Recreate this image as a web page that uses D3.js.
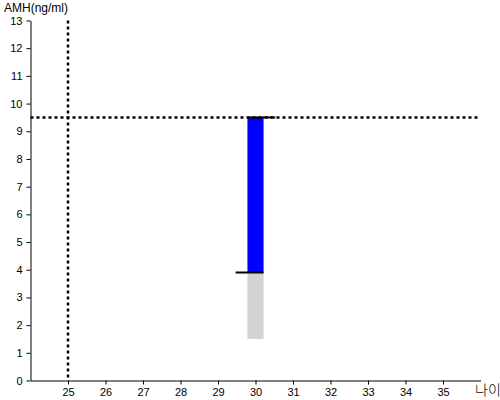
<!DOCTYPE html>
<html>
<head>
<meta charset="utf-8">
<script src="https://cdnjs.cloudflare.com/ajax/libs/d3/7.8.5/d3.min.js"></script>
<style>
  body { margin: 0; background: #fff; }
  svg { display: block; font-family: "Liberation Sans", Arial, sans-serif; }
  .axis text { font-size: 11px; fill: #000; }
  .axis path, .axis line { stroke: #000; }
</style>
</head>
<body>
<svg id="chart" width="500" height="400"></svg>
<script>
// data
var ages = [30];
var amhTop = [9.5];
var amhMid = [3.9];
var amhLow = [1.5];
var refAge = [25];
var refAmh = [9.5];
var xTicks = [25, 26, 27, 28, 29, 30, 31, 32, 33, 34, 35];
var yTicks = [0, 1, 2, 3, 4, 5, 6, 7, 8, 9, 10, 11, 12, 13];

var svg = d3.select("#chart");

var x = d3.scaleLinear().domain([24, 36]).range([30.5, 480.5]);
var y = d3.scaleLinear().domain([0, 13]).range([380.5, 20.5]);

var barHalf = 0.215;

// gray lower part
svg.selectAll(".low")
    .data(ages)
  .enter().append("rect")
    .attr("fill", "#d3d3d3")
    .attr("x", function(d) { return x(d - barHalf); })
    .attr("width", function(d) { return x(d + barHalf) - x(d - barHalf); })
    .attr("y", function(d, i) { return y(amhMid[i]); })
    .attr("height", function(d, i) { return y(amhLow[i]) - y(amhMid[i]); });

// blue upper part
svg.selectAll(".high")
    .data(ages)
  .enter().append("rect")
    .attr("fill", "#0000ff")
    .attr("x", function(d) { return x(d - barHalf); })
    .attr("width", function(d) { return x(d + barHalf) - x(d - barHalf); })
    .attr("y", function(d, i) { return y(amhTop[i]); })
    .attr("height", function(d, i) { return y(amhMid[i]) - y(amhTop[i]); });

// reference lines
svg.selectAll(".vref")
    .data(refAge)
  .enter().append("line")
    .attr("x1", function(d) { return x(d); })
    .attr("x2", function(d) { return x(d); })
    .attr("y1", y(13))
    .attr("y2", y(0))
    .attr("stroke", "#000")
    .attr("stroke-width", 2.5)
    .attr("stroke-dasharray", "3,3");

svg.selectAll(".href")
    .data(refAmh)
  .enter().append("line")
    .attr("x1", x(24))
    .attr("x2", x(36))
    .attr("y1", function(d) { return y(d); })
    .attr("y2", function(d) { return y(d); })
    .attr("stroke", "#000")
    .attr("stroke-width", 2.5)
    .attr("stroke-dasharray", "3,3");

// top and middle markers
svg.selectAll(".topmark")
    .data(ages)
  .enter().append("line")
    .attr("x1", function(d) { return x(d - barHalf); })
    .attr("x2", function(d) { return x(d + 0.53); })
    .attr("y1", function(d, i) { return y(amhTop[i]); })
    .attr("y2", function(d, i) { return y(amhTop[i]); })
    .attr("stroke", "#000")
    .attr("stroke-width", 2);

svg.selectAll(".midmark")
    .data(ages)
  .enter().append("line")
    .attr("x1", function(d) { return x(d - 0.53); })
    .attr("x2", function(d) { return x(d + barHalf); })
    .attr("y1", function(d, i) { return y(amhMid[i]); })
    .attr("y2", function(d, i) { return y(amhMid[i]); })
    .attr("stroke", "#000")
    .attr("stroke-width", 2);

// axes
svg.append("g")
    .attr("class", "axis")
    .attr("transform", "translate(0," + y(0) + ")")
    .call(d3.axisBottom(x).tickValues(xTicks).tickSize(4).tickSizeOuter(0).tickPadding(4));

svg.append("g")
    .attr("class", "axis")
    .attr("transform", "translate(" + x(24) + ",0)")
    .call(d3.axisLeft(y).tickValues(yTicks).tickSize(4).tickSizeOuter(0).tickPadding(4));

// labels
svg.append("text")
    .attr("x", 4)
    .attr("y", 12)
    .attr("font-size", 12)
    .text("AMH(ng/ml)");

svg.append("text")
    .attr("x", 475)
    .attr("y", 395)
    .attr("font-family", "'Noto Sans CJK KR', sans-serif")
    .attr("font-weight", 300)
    .attr("font-size", 14)
    .text("나이");
</script>
</body>
</html>
